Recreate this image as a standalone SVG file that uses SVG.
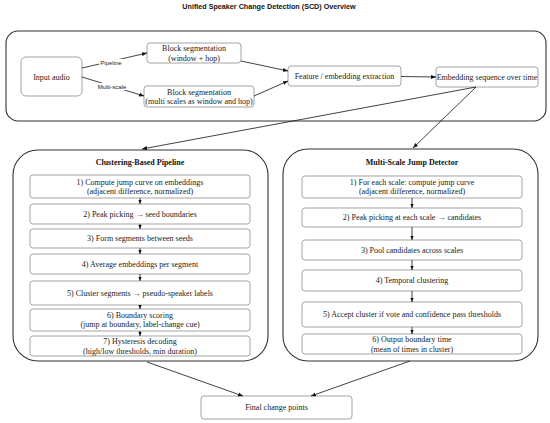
<svg xmlns="http://www.w3.org/2000/svg" width="550" height="423" viewBox="0 0 550 423">
<defs>
<marker id="ah" viewBox="0 0 10 10" refX="10" refY="5" markerWidth="5" markerHeight="5" orient="auto" markerUnits="userSpaceOnUse"><path d="M0,1 L10,5 L0,9 z" fill="#111"/></marker>
<marker id="as" viewBox="0 0 10 10" refX="10" refY="5" markerWidth="4" markerHeight="4" orient="auto" markerUnits="userSpaceOnUse"><path d="M0,1 L10,5 L0,9 z" fill="#111"/></marker>
</defs>
<style>
.bg{fill:#fff}
.cont{fill:#fff;stroke:#333;stroke-width:1.1}
.box{fill:#fff;stroke:#999;stroke-width:0.9}
.t{font-family:"Liberation Serif","Times New Roman",serif;font-size:8px;fill:#222;text-anchor:middle}
.tb{font-family:"Liberation Serif","Times New Roman",serif;font-size:8px;font-weight:bold;fill:#111;text-anchor:middle}
.title{font-family:"Liberation Sans",Arial,sans-serif;font-size:7.2px;font-weight:bold;fill:#111;text-anchor:middle}
.lbl{font-family:"Liberation Sans",Arial,sans-serif;font-size:6px;fill:#222;text-anchor:middle}
.c{stroke:#111;stroke-width:0.8;fill:none;marker-end:url(#ah)}
.s{stroke:#111;stroke-width:0.8;fill:none;marker-end:url(#as)}
</style>
<rect class="bg" width="550" height="423"/>
<text class="title" x="269" y="9">Unified Speaker Change Detection (SCD) Overview</text>

<g id="top-container"><rect class="cont" x="6" y="31" width="540" height="90" rx="12"/></g>
<g id="left-container"><rect class="cont" x="13" y="150" width="255" height="211" rx="25"/><text class="tb" x="140" y="165">Clustering-Based Pipeline</text></g>
<g id="right-container"><rect class="cont" x="283" y="149" width="255" height="212" rx="25"/><text class="tb" x="412" y="165">Multi-Scale Jump Detector</text></g>

<g id="input-audio"><rect class="box" x="21" y="57" width="61" height="39" rx="5"/><text class="t" x="51.5" y="79.5">Input audio</text></g>
<g id="block-seg-1"><rect class="box" x="147" y="43" width="94" height="20" rx="3"/><text class="t" x="194" y="51">Block segmentation</text><text class="t" x="194" y="60.5">(window + hop)</text></g>
<g id="block-seg-2"><rect class="box" x="144" y="86" width="110" height="21" rx="3"/><text class="t" x="199" y="94.5">Block segmentation</text><text class="t" x="199" y="104">(multi scales as window and hop)</text></g>
<g id="feature"><rect class="box" x="288" y="66" width="113" height="20" rx="3"/><text class="t" x="344.5" y="78.5">Feature / embedding extraction</text></g>
<g id="embedding"><rect class="box" x="436" y="67" width="102" height="20" rx="3"/><text class="t" x="487" y="79.5">Embedding sequence over time</text></g>

<g id="l1"><rect class="box" x="30" y="175" width="220" height="23" rx="3"/><text class="t" x="140" y="184.5">1) Compute jump curve on embeddings</text><text class="t" x="140" y="194">(adjacent difference, normalized)</text></g>
<g id="l2"><rect class="box" x="30" y="204" width="220" height="20" rx="3"/><text class="t" x="140" y="216.5">2) Peak picking → seed boundaries</text></g>
<g id="l3"><rect class="box" x="30" y="229" width="220" height="19" rx="3"/><text class="t" x="140" y="241">3) Form segments between seeds</text></g>
<g id="l4"><rect class="box" x="30" y="254" width="220" height="20" rx="3"/><text class="t" x="140" y="266.5">4) Average embeddings per segment</text></g>
<g id="l5"><rect class="box" x="30" y="281" width="220" height="24" rx="3"/><text class="t" x="140" y="295.5">5) Cluster segments → pseudo-speaker labels</text></g>
<g id="l6"><rect class="box" x="30" y="309" width="220" height="22" rx="3"/><text class="t" x="140" y="317.5">6) Boundary scoring</text><text class="t" x="140" y="327">(jump at boundary, label-change cue)</text></g>
<g id="l7"><rect class="box" x="30" y="336" width="220" height="20" rx="3"/><text class="t" x="140" y="344">7) Hysteresis decoding</text><text class="t" x="140" y="353.5">(high/low thresholds, min duration)</text></g>

<g id="r1"><rect class="box" x="302" y="176" width="220" height="22" rx="3"/><text class="t" x="412" y="184.5">1) For each scale: compute jump curve</text><text class="t" x="412" y="194">(adjacent difference, normalized)</text></g>
<g id="r2"><rect class="box" x="302" y="208" width="220" height="19" rx="3"/><text class="t" x="412" y="220">2) Peak picking at each scale → candidates</text></g>
<g id="r3"><rect class="box" x="302" y="240" width="220" height="20" rx="3"/><text class="t" x="412" y="252.5">3) Pool candidates across scales</text></g>
<g id="r4"><rect class="box" x="302" y="270" width="220" height="21" rx="3"/><text class="t" x="412" y="283">4) Temporal clustering</text></g>
<g id="r5"><rect class="box" x="302" y="302" width="220" height="25" rx="3"/><text class="t" x="412" y="317">5) Accept cluster if vote and confidence pass thresholds</text></g>
<g id="r6"><rect class="box" x="302" y="334" width="220" height="20" rx="3"/><text class="t" x="412" y="342">6) Output boundary time</text><text class="t" x="412" y="351.5">(mean of times in cluster)</text></g>

<g id="final"><rect class="box" x="201" y="396" width="151" height="23" rx="3"/><text class="t" x="276.5" y="410">Final change points</text></g>

<g id="connectors">
<path class="c" d="M82,68 L147,53"/>
<path class="c" d="M82,77 L144,96"/>
<path class="c" d="M241,61 L288,71"/>
<path class="c" d="M254,96 L288,81"/>
<path class="c" d="M401,76.5 L436,77"/>
<path class="c" d="M476,87 L142,149"/>
<path class="c" d="M476,87 L413,148"/>
<path class="s" d="M140,198 L140,204"/>
<path class="s" d="M140,224 L140,229"/>
<path class="s" d="M140,248 L140,254"/>
<path class="s" d="M140,274 L140,281"/>
<path class="s" d="M140,305 L140,309"/>
<path class="s" d="M140,331 L140,336"/>
<path class="s" d="M412,198 L412,208"/>
<path class="s" d="M412,227 L412,240"/>
<path class="s" d="M412,260 L412,270"/>
<path class="s" d="M412,291 L412,302"/>
<path class="s" d="M412,327 L412,334"/>
<path class="c" d="M147,362 L243,396"/>
<path class="c" d="M410,361 L311,396"/>
<rect class="bg" x="99" y="59" width="25" height="7"/>
<text class="lbl" x="111" y="64.5">Pipeline</text>
<rect class="bg" x="97" y="83" width="30" height="7"/>
<text class="lbl" x="112" y="88.5">Multi-scale</text>
</g>
</svg>
